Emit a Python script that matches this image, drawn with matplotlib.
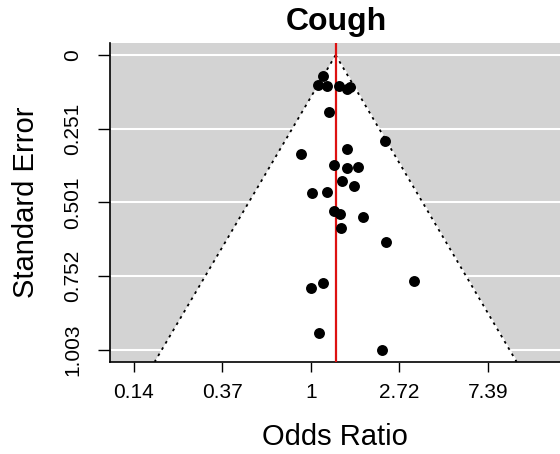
import matplotlib
matplotlib.use("Agg")
import matplotlib.pyplot as plt
import numpy as np

plt.rcParams["font.family"] = ["Liberation Sans", "DejaVu Sans"]

# study estimates (log odds ratio) and standard errors, read off the funnel
log_or = [0.139, 0.082, 0.184, 0.313, 0.407, 0.444, 0.207, 0.838, 0.407,
          -0.116, 0.263, 0.403, 0.531, 0.350, 0.489, 0.011, 0.184, 0.263,
          0.331, 0.584, 0.339, 0.844, 0.000, 0.139, 1.164, 0.094, 0.802]
se = [0.071, 0.102, 0.105, 0.105, 0.117, 0.110, 0.194, 0.291, 0.318,
      0.338, 0.373, 0.385, 0.382, 0.427, 0.444, 0.469, 0.465, 0.530,
      0.542, 0.551, 0.589, 0.636, 0.792, 0.776, 0.769, 0.945, 1.003]

pooled = 0.279   # summary log odds ratio
se_max = 1.003

x_ticks = [-2, -1, 0, 1, 2]
x_labels = ["0.14", "0.37", "1", "2.72", "7.39"]
y_ticks = [0, 0.25075, 0.5015, 0.75225, 1.003]
y_labels = ["0", "0.251", "0.501", "0.752", "1.003"]

fig = plt.figure(figsize=(5.6, 4.54), dpi=100)
ax = fig.add_axes([0.1964, 0.2033, 0.8036, 0.702])
ax.set_facecolor("#d3d3d3")

ylo, yhi = -0.041, 1.043
ax.set_xlim(-2.271, 2.814)
ax.set_ylim(yhi, ylo)

# white grid lines at the y ticks
for yt in y_ticks:
    ax.axhline(yt, color="white", lw=1.5, zorder=1)

# pseudo confidence region
se_line = np.array([0, yhi])
lo = pooled - 1.96 * se_line
hi = pooled + 1.96 * se_line
ax.fill_betweenx(se_line, lo, hi, color="white", zorder=2)
ax.plot(lo, se_line, color="black", ls=(0, (1.5, 2.5)), lw=1.3, zorder=3)
ax.plot(hi, se_line, color="black", ls=(0, (1.5, 2.5)), lw=1.3, zorder=3)

ax.axvline(pooled, color="#dd1111", lw=1.6, zorder=4)
ax.scatter(log_or, se, s=62, color="black", zorder=5, linewidths=0)

ax.set_xticks(x_ticks)
ax.set_xticklabels(x_labels, fontsize=15)
ax.set_yticks(y_ticks)
ax.set_yticklabels(y_labels, fontsize=15, rotation=90, va="center")
ax.tick_params(axis="x", length=7.5, width=1, pad=8)
ax.tick_params(axis="y", length=9, width=1, pad=11)

for side in ["top", "right"]:
    ax.spines[side].set_visible(False)
for side in ["left", "bottom"]:
    ax.spines[side].set_linewidth(1.2)

ax.set_xlabel("Odds Ratio", fontsize=21, labelpad=15)
ax.set_ylabel("Standard Error", fontsize=21, labelpad=17)
fig.text(0.6, 0.952, "Cough", fontsize=23, fontweight="bold", ha="center", va="center")

fig.savefig("out.png", dpi=100)
